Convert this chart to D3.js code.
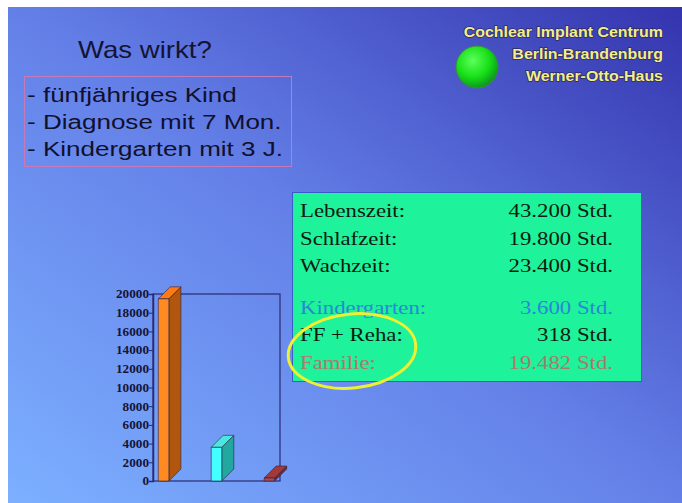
<!DOCTYPE html>
<html lang="de">
  <head>
    <meta charset="UTF-8" />
    <title>Was wirkt?</title>
    <script src="https://d3js.org/d3.v7.min.js"></script>
    <style>
      * {
        margin: 0;
        padding: 0;
      }
      body {
        background: #fff;
      }
      .sans {
        font-family: "Liberation Sans", Arial, sans-serif;
      }
      .serif {
        font-family: "Liberation Serif", "Times New Roman", serif;
      }
    </style>
  </head>

  <body></body>

  <script>
    // Daten
    const title = "Was wirkt?";
    const bullets = ["- fünfjähriges Kind", "- Diagnose mit 7 Mon.", "- Kindergarten mit 3 J."];
    const logoLines = ["Cochlear Implant Centrum", "Berlin-Brandenburg", "Werner-Otto-Haus"];

    const rowLabels = ["Lebenszeit:", "Schlafzeit:", "Wachzeit:", "Kindergarten:", "FF + Reha:", "Familie:"];
    const rowValues = ["43.200 Std.", "19.800 Std.", "23.400 Std.", "3.600 Std.", "318 Std.", "19.482 Std."];
    const rowColors = ["#0c1a10", "#0c1a10", "#0c1a10", "#2a86d8", "#0c1a10", "#ab7a6c"];

    const barCats = ["Familie", "Kindergarten", "FF + Reha"];
    const barValues = [19482, 3600, 318];
    const barFront = ["#ff8a22", "#44ffff", "#b04a4a"];
    const barSide = ["#b0560e", "#22a89e", "#7a2630"];
    const barTop = ["#ff7a14", "#48e8e0", "#a23a3a"];
    const yTicks = [0, 2000, 4000, 6000, 8000, 10000, 12000, 14000, 16000, 18000, 20000];

    const w = 682;
    const h = 503;
    const sx = 1.2; // Folie ist horizontal gestreckt

    let svg = d3
      .select("body")
      .append("svg")
      .attr("width", w)
      .attr("height", h);

    let defs = svg.append("defs");
    let bg = defs
      .append("linearGradient")
      .attr("id", "bg")
      .attr("x1", 0)
      .attr("y1", 1)
      .attr("x2", 1)
      .attr("y2", 0);
    bg.append("stop").attr("offset", 0).attr("stop-color", "#7cb0ff");
    bg.append("stop").attr("offset", 0.5).attr("stop-color", "#6480e8");
    bg.append("stop").attr("offset", 1).attr("stop-color", "#3434ae");

    let ball = defs
      .append("radialGradient")
      .attr("id", "ball")
      .attr("cx", 0.4)
      .attr("cy", 0.35)
      .attr("r", 0.65);
    ball.append("stop").attr("offset", 0).attr("stop-color", "#5cff5c");
    ball.append("stop").attr("offset", 0.6).attr("stop-color", "#18e018");
    ball.append("stop").attr("offset", 1).attr("stop-color", "#0c9a1c");

    // Hintergrund
    svg
      .append("rect")
      .attr("x", 8)
      .attr("y", 7)
      .attr("width", w - 8)
      .attr("height", h - 7)
      .attr("fill", "url(#bg)");

    // Titel
    svg
      .append("text")
      .attr("class", "sans")
      .attr("transform", `translate(78,58) scale(${sx},1)`)
      .attr("font-size", 23)
      .attr("fill", "#141432")
      .text(title);

    // Stichpunkte
    svg
      .append("rect")
      .attr("x", 24.5)
      .attr("y", 76.5)
      .attr("width", 267)
      .attr("height", 90)
      .attr("fill", "none")
      .attr("stroke", "#c77ab8")
      .attr("stroke-width", 1);

    svg
      .append("g")
      .selectAll("text")
      .data(bullets)
      .enter()
      .append("text")
      .attr("class", "sans")
      .attr("transform", (d, i) => `translate(27,${102 + i * 27}) scale(1.24,1)`)
      .attr("font-size", 21)
      .attr("fill", "#10102c")
      .text((d) => d);

    // Logo
    svg
      .append("ellipse")
      .attr("cx", 477)
      .attr("cy", 67)
      .attr("rx", 21)
      .attr("ry", 21)
      .attr("fill", "url(#ball)")
      .attr("stroke", "#3c8c40")
      .attr("stroke-width", 1);

    svg
      .append("g")
      .selectAll("text")
      .data(logoLines)
      .enter()
      .append("text")
      .attr("class", "sans")
      .attr("transform", (d, i) => `translate(663,${37 + i * 22}) scale(1.14,1)`)
      .attr("text-anchor", "end")
      .attr("font-size", 14)
      .attr("font-weight", "bold")
      .attr("fill", "#f4ee8a")
      .attr("stroke", "#2c2c66")
      .attr("stroke-width", 1.4)
      .attr("paint-order", "stroke")
      .text((d) => d);

    // Tabelle
    svg
      .append("rect")
      .attr("x", 292.5)
      .attr("y", 192.5)
      .attr("width", 349)
      .attr("height", 189)
      .attr("fill", "#1ef29a")
      .attr("stroke", "#3a5cc8")
      .attr("stroke-width", 1);

    const rowY = (i) => 217 + i * 27.5 + (i >= 3 ? 14 : 0);

    let rows = svg.append("g").attr("class", "serif").attr("font-size", 19);
    rows
      .selectAll(".lbl")
      .data(rowLabels)
      .enter()
      .append("text")
      .attr("class", "lbl")
      .attr("transform", (d, i) => `translate(300,${rowY(i)}) scale(${sx},1)`)
      .attr("fill", (d, i) => rowColors[i])
      .text((d) => d);
    rows
      .selectAll(".val")
      .data(rowValues)
      .enter()
      .append("text")
      .attr("class", "val")
      .attr("text-anchor", "end")
      .attr("transform", (d, i) => `translate(613,${rowY(i)}) scale(${sx},1)`)
      .attr("fill", (d, i) => rowColors[i])
      .text((d) => d);

    // gelber Kreis
    svg
      .append("ellipse")
      .attr("cx", 352)
      .attr("cy", 351)
      .attr("rx", 64)
      .attr("ry", 37)
      .attr("transform", "rotate(-6,352,351)")
      .attr("fill", "none")
      .attr("stroke", "#f0f032")
      .attr("stroke-width", 3);

    // Diagramm
    const x0 = 153,
      x1 = 280,
      y0 = 481,
      y1 = 294;
    const dx = 12,
      dy = 12;

    let x = d3.scaleBand().domain(barCats).range([x0, x1]).paddingInner(0.8).paddingOuter(0.1);
    let y = d3.scaleLinear().domain([0, 20000]).range([y0, y1]);

    let chart = svg.append("g").attr("class", "chart");

    chart
      .append("rect")
      .attr("x", x0)
      .attr("y", y1)
      .attr("width", x1 - x0)
      .attr("height", y0 - y1)
      .attr("fill", "none")
      .attr("stroke", "#2a2a72")
      .attr("stroke-width", 1.2);

    const tsx = 1.1;
    let yAxis = chart
      .append("g")
      .attr("transform", `translate(${x0},0)`)
      .call(d3.axisLeft(y).tickValues(yTicks).tickSize(4).tickPadding(1).tickFormat(d3.format("d")));
    yAxis.select(".domain").attr("stroke", "#2a2a72").attr("stroke-width", 1.5);
    yAxis.selectAll(".tick line").attr("stroke", "#2a2a72");
    yAxis
      .selectAll(".tick text")
      .attr("class", "serif")
      .attr("font-size", 12)
      .attr("font-weight", "bold")
      .attr("fill", "#141438")
      .attr("x", -4 / tsx)
      .attr("transform", `scale(${tsx},1)`);

    let bars = chart
      .selectAll(".bar")
      .data(barValues)
      .enter()
      .append("g")
      .attr("class", "bar")
      .attr("stroke", "#2a1e40")
      .attr("stroke-width", 0.6)
      .attr("stroke-linejoin", "round");

    const bw = x.bandwidth();
    bars
      .append("polygon")
      .attr("points", (d, i) => {
        let bx = x(barCats[i]) + bw;
        let by = y(d);
        return [[bx, by], [bx + dx, by - dy], [bx + dx, y0 - dy], [bx, y0]].join(" ");
      })
      .attr("fill", (d, i) => barSide[i]);
    bars
      .append("polygon")
      .attr("points", (d, i) => {
        let bx = x(barCats[i]);
        let by = y(d);
        return [[bx, by], [bx + dx, by - dy], [bx + bw + dx, by - dy], [bx + bw, by]].join(" ");
      })
      .attr("fill", (d, i) => barTop[i]);
    bars
      .append("rect")
      .attr("x", (d, i) => x(barCats[i]))
      .attr("y", (d) => y(d))
      .attr("width", bw)
      .attr("height", (d) => y0 - y(d))
      .attr("fill", (d, i) => barFront[i]);
  </script>
</html>
